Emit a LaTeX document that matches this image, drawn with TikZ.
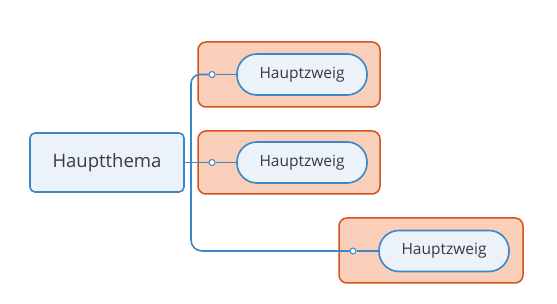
\documentclass[tikz,border=0pt]{standalone}
\usepackage{fontspec}
\setmainfont{Open Sans}
\definecolor{tblue}{HTML}{3A86C6}
\definecolor{tfill}{HTML}{EBF2FA}
\definecolor{ofill}{HTML}{F9CFB9}
\definecolor{oline}{HTML}{D2531C}
\definecolor{ttext}{HTML}{3A3A3A}
\begin{document}
\begin{tikzpicture}[x=1pt,y=-1pt,
  mainbox/.style={draw=tblue,fill=tfill,line width=1.6pt,rounded corners=5pt,minimum width=154pt,minimum height=59pt,text=ttext,font=\fontsize{18.5}{22}\selectfont},
  branchbox/.style={draw=tblue,fill=tfill,line width=1.6pt,rounded corners=20pt,minimum width=130pt,minimum height=41pt,text=ttext,font=\fontsize{15.5}{18}\selectfont},
  groupbox/.style={draw=oline,fill=ofill,line width=1.5pt,rounded corners=8pt},
  conn/.style={draw=tblue,line width=1.6pt},
  dot/.style={circle,draw=tblue,fill=white,line width=1pt,inner sep=0pt,minimum size=6pt}]
\useasboundingbox (0,0) rectangle (557,304);
% group backgrounds
\draw[groupbox] (198,42) rectangle (380,107);
\draw[groupbox] (198,131) rectangle (380,194);
\draw[groupbox] (339,218) rectangle (523,283);
% nodes
\node[mainbox] (main) at (107,162.5) {Hauptthema};
\node[branchbox] (b1) at (302,74.5) {Hauptzweig};
\node[branchbox] (b2) at (302,162.5) {Hauptzweig};
\node[branchbox] (b3) at (444,251) {Hauptzweig};
\node[dot] (d1) at (212,74.5) {};
\node[dot] (d2) at (212,162.5) {};
\node[dot] (d3) at (353,251) {};
\coordinate (j) at (191,162.5);
% connectors
\draw[conn] (main.east) -- (d2);
\draw[conn,rounded corners=9pt] (j) |- (d1);
\draw[conn,rounded corners=11pt] (j) |- (d3);
\draw[conn] (d1) -- (b1);
\draw[conn] (d2) -- (b2);
\draw[conn] (d3) -- (b3);
\end{tikzpicture}
\end{document}
